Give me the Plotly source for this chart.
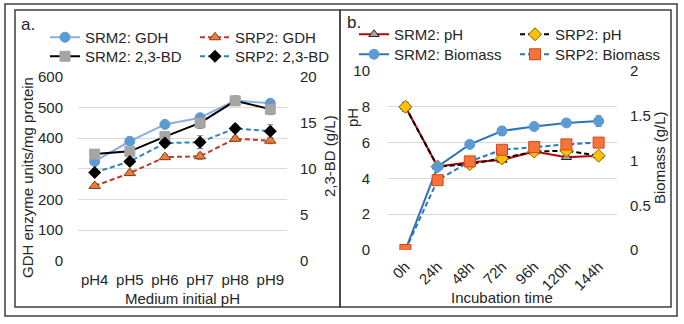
import plotly.graph_objects as go

# ---------------- data ----------------
ph_cats = ["pH4", "pH5", "pH6", "pH7", "pH8", "pH9"]
srm2_gdh = [324, 390, 445, 467, 523, 514]
srp2_gdh = [244, 286, 338, 341, 398, 392]
srm2_bd = [11.6, 11.9, 13.5, 15.0, 17.4, 16.5]
srp2_bd = [9.6, 10.8, 12.8, 12.9, 14.4, 14.1]
srm2_gdh_err = [8, 8, 8, 10, 10, 10]
srp2_gdh_err = [8, 8, 8, 10, 8, 10]
srm2_bd_err = [0.4, 0.4, 0.5, 0.6, 0.5, 0.6]
srp2_bd_err = [0.3, 0.3, 0.4, 0.7, 0.4, 0.7]

time_cats = ["0h", "24h", "48h", "72h", "96h", "120h", "144h"]
srm2_ph = [8.0, 4.66, 4.9, 5.03, 5.5, 5.18, 5.27]
srp2_ph = [8.0, 4.66, 4.8, 5.12, 5.5, 5.55, 5.27]
srm2_bio = [0, 0.93, 1.18, 1.33, 1.38, 1.42, 1.44]
srp2_bio = [0, 0.78, 0.99, 1.12, 1.15, 1.18, 1.20]
srm2_ph_err = [0.25, 0.1, 0.1, 0.1, 0.1, 0.1, 0.1]
srp2_ph_err = [0.25, 0.1, 0.1, 0.1, 0.1, 0.1, 0.1]
srm2_bio_err = [0, 0.03, 0.02, 0.05, 0.03, 0.03, 0.06]
srp2_bio_err = [0, 0.02, 0.02, 0.04, 0.03, 0.03, 0.04]

W, H = 684, 324
FONT = "Liberation Sans, Arial, sans-serif"
TXT = "#262626"
GRID = "#D9D9D9"


def px(x):
    return x / W


def py(y):
    return 1 - y / H


def err(vals, color="#404040"):
    return dict(type="data", array=vals, visible=True, color=color, thickness=1, width=3)


fig = go.Figure()

# ---------------- panel a ----------------
fig.add_trace(go.Scatter(
    x=ph_cats, y=srm2_gdh, name="SRM2: GDH", xaxis="x", yaxis="y", legend="legend",
    mode="lines+markers", line=dict(color="#8AB1DE", width=2),
    marker=dict(symbol="circle", size=10, color="#5B9BD5", line=dict(color="#5B9BD5", width=1)),
    error_y=err(srm2_gdh_err, "#7F7F7F")))
fig.add_trace(go.Scatter(
    x=ph_cats, y=srp2_gdh, name="SRP2: GDH", xaxis="x", yaxis="y", legend="legend2",
    mode="lines+markers", line=dict(color="#C0392B", width=2, dash="5px,3px"),
    marker=dict(symbol="triangle-up", size=10, color="#ED7D31", line=dict(color="#7F3F1F", width=1)),
    error_y=err(srp2_gdh_err, "#7F7F7F")))
fig.add_trace(go.Scatter(
    x=ph_cats, y=srm2_bd, name="SRM2: 2,3-BD", xaxis="x", yaxis="y2", legend="legend3",
    mode="lines+markers", line=dict(color="#000000", width=2),
    marker=dict(symbol="square", size=10, color="#A5A5A5", line=dict(color="#A5A5A5", width=1)),
    error_y=err(srm2_bd_err, "#7F7F7F")))
fig.add_trace(go.Scatter(
    x=ph_cats, y=srp2_bd, name="SRP2: 2,3-BD", xaxis="x", yaxis="y2", legend="legend4",
    mode="lines+markers", line=dict(color="#2E86C1", width=2, dash="5px,3px"),
    marker=dict(symbol="diamond", size=10, color="#000000"),
    error_y=err(srp2_bd_err, "#7F7F7F")))

# ---------------- panel b ----------------
fig.add_trace(go.Scatter(
    x=time_cats, y=srm2_ph, name="SRM2: pH", xaxis="x2", yaxis="y3", legend="legend5",
    mode="lines+markers", line=dict(color="#C00000", width=2),
    marker=dict(symbol="triangle-up", size=9, color="#A5A5A5", line=dict(color="#262626", width=1)),
    error_y=err(srm2_ph_err, "#595959")))
fig.add_trace(go.Scatter(
    x=time_cats, y=srp2_ph, name="SRP2: pH", xaxis="x2", yaxis="y3", legend="legend6",
    mode="lines+markers", line=dict(color="#000000", width=2, dash="5px,3px"),
    marker=dict(symbol="diamond", size=10, color="#FFC000", line=dict(color="#7F6000", width=1)),
    error_y=err(srp2_ph_err, "#595959")))
fig.add_trace(go.Scatter(
    x=time_cats, y=srm2_bio, name="SRM2: Biomass", xaxis="x2", yaxis="y4", legend="legend7",
    mode="lines+markers", line=dict(color="#2E75B6", width=2),
    marker=dict(symbol="circle", size=10, color="#5B9BD5", line=dict(color="#5B9BD5", width=1)),
    error_y=err(srm2_bio_err, "#7F7F7F")))
fig.add_trace(go.Scatter(
    x=time_cats, y=srp2_bio, name="SRP2: Biomass", xaxis="x2", yaxis="y4", legend="legend8",
    mode="lines+markers", line=dict(color="#2E75B6", width=2, dash="5px,3px"),
    marker=dict(symbol="square", size=11, color="#F4753A", line=dict(color="#D9441C", width=1)),
    error_y=err(srp2_bio_err, "#7F7F7F")))

tickfont = dict(family=FONT, size=15, color=TXT)

common_y = dict(showgrid=False, zeroline=False, showline=False, ticks="", tickfont=tickfont,
                automargin=False)

fig.update_layout(
    template="none",
    width=W, height=H,
    margin=dict(l=0, r=0, t=0, b=0, autoexpand=False),
    paper_bgcolor="white", plot_bgcolor="white",
    font=dict(family=FONT, size=15, color=TXT),
    xaxis=dict(domain=[px(78), px(287)], anchor="y", showgrid=False, zeroline=False,
               showline=False, ticks="", tickfont=tickfont, ticklabelstandoff=8, automargin=False),
    yaxis=dict(domain=[py(260.6), py(77)], anchor="x", range=[0, 600], dtick=100,
               showgrid=True, gridcolor=GRID, gridwidth=1, zeroline=False, showline=False,
               ticks="", tickfont=tickfont, ticklabelstandoff=14, automargin=False),
    yaxis2=dict(overlaying="y", anchor="x", side="right", range=[0, 20], dtick=5,
                **common_y, ticklabelstandoff=12),
    xaxis2=dict(domain=[px(387), px(617)], anchor="y3", showgrid=False, zeroline=False,
                showline=False, ticks="", tickfont=tickfont, tickangle=-45, ticklabelstandoff=4,
                automargin=False),
    yaxis3=dict(domain=[py(250), py(71)], anchor="x2", range=[0, 10], dtick=2,
                showgrid=True, gridcolor=GRID, gridwidth=1, zeroline=False, showline=False,
                ticks="", tickfont=tickfont, ticklabelstandoff=16, automargin=False),
    yaxis4=dict(overlaying="y3", anchor="x2", side="right", range=[0, 2], dtick=0.5,
                **common_y, ticklabelstandoff=12),
    showlegend=True,
)

leg_common = dict(xref="paper", yref="paper", xanchor="left", yanchor="top", orientation="v",
                  bgcolor="rgba(0,0,0,0)", borderwidth=0, tracegroupgap=0,
                  font=dict(family=FONT, size=15, color=TXT), itemwidth=30)
# column / row anchor positions (pixels) for the legend entries
col_a1, col_a2, col_b1, col_b2 = 45, 195, 354, 515
row_a1, row_a2, row_b1, row_b2 = 21, 40, 18, 38
fig.update_layout(
    legend=dict(x=px(col_a1), y=py(row_a1), **leg_common),
    legend2=dict(x=px(col_a2), y=py(row_a1), **leg_common),
    legend3=dict(x=px(col_a1), y=py(row_a2), **leg_common),
    legend4=dict(x=px(col_a2), y=py(row_a2), **leg_common),
    legend5=dict(x=px(col_b1), y=py(row_b1), **leg_common),
    legend6=dict(x=px(col_b2), y=py(row_b1), **leg_common),
    legend7=dict(x=px(col_b1), y=py(row_b2), **leg_common),
    legend8=dict(x=px(col_b2), y=py(row_b2), **leg_common),
)

ann = []
def a(text, x, y, angle=0, size=15):
    ann.append(dict(text=text, x=px(x), y=py(y), xref="paper", yref="paper",
                    showarrow=False, textangle=angle, xanchor="center", yanchor="middle",
                    font=dict(family=FONT, size=size, color=TXT)))

a("a.", 28, 24, size=17)
a("b.", 354, 23, size=17)
a("GDH enzyme units/mg protein", 27, 178, -90)
a("2,3-BD (g/L)", 330, 156, -90)
a("Medium initial pH", 182, 298)
a("pH", 352, 118, -90)
a("Biomass (g/L)", 660, 158, -90)
a("Incubation time", 502, 297)
fig.update_layout(annotations=ann)

BORDER = "#3F3F3F"
shapes = [
    dict(type="rect", xref="paper", yref="paper", x0=px(5), x1=px(677), y0=py(316), y1=py(4),
         line=dict(color=BORDER, width=1.5)),
    dict(type="rect", xref="paper", yref="paper", x0=px(15), x1=px(340), y0=py(307), y1=py(10),
         line=dict(color=BORDER, width=1.5)),
    dict(type="rect", xref="paper", yref="paper", x0=px(340), x1=px(671), y0=py(307), y1=py(10),
         line=dict(color=BORDER, width=1.5)),
]
fig.update_layout(shapes=shapes)

fig.write_html("out.html", config={"displayModeBar": False},
               post_script="document.body.style.margin='0';document.body.style.overflow='hidden';")
